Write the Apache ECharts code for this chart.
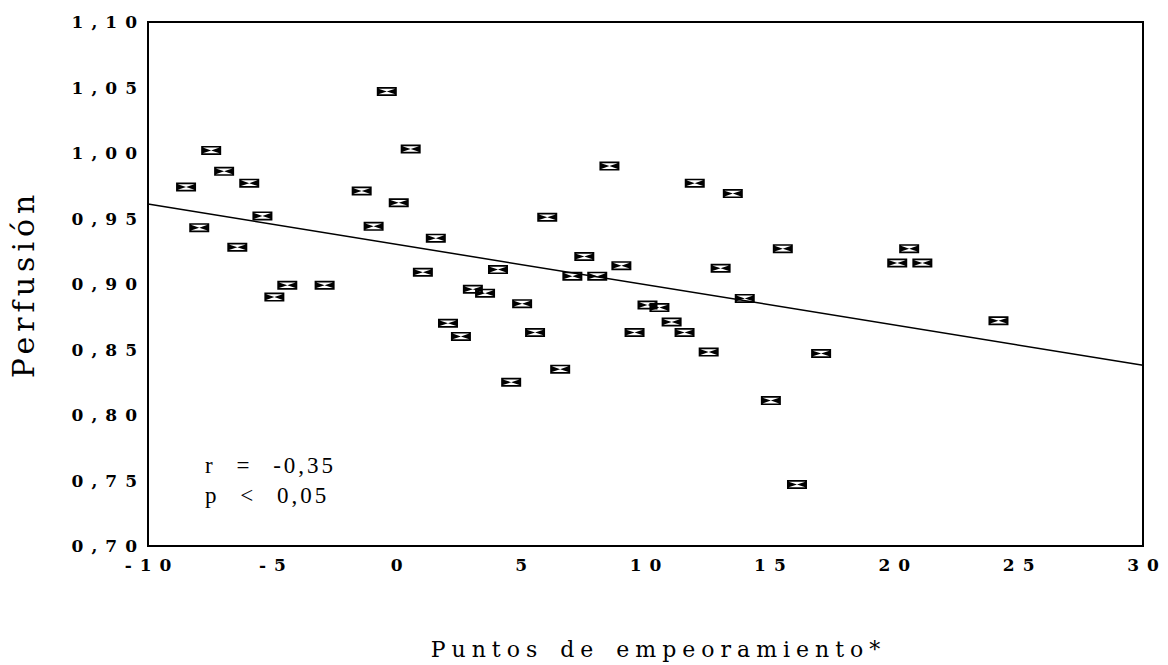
<!DOCTYPE html>
<html>
<head>
<meta charset="utf-8">
<script src="https://cdn.jsdelivr.net/npm/echarts@6/dist/echarts.min.js"></script>
<style>
  html, body { margin: 0; padding: 0; background: #fff; }
  #chart { width: 1168px; height: 665px; }
  /* wide-set lettering for the axis texts */
  #chart text[style*="17px"] { letter-spacing: 8px; }
  #chart text[style*="22px"] { letter-spacing: 6px; word-spacing: 4px; }
  #chart text[style*="30px"] { letter-spacing: 5px; }
  #chart text[style*="23px"] { letter-spacing: 3px; word-spacing: 12px; }
</style>
</head>
<body>
<div id="chart"></div>
<script>
// Puntos de empeoramiento (x) and perfusión (y) for each patient
const puntos = [
  -8.47, -7.46, -6.94, -7.94, -5.93, -6.41, -5.40, -4.40, -4.92, -2.90,
  -0.40, -1.41, -0.93, 0.08, 0.56, 1.57, 1.05, 2.06, 2.58, 3.06,
  3.55, 4.07, 5.04, 4.60, 5.56, 6.05, 6.57, 7.54, 7.06, 8.06,
  8.55, 9.03, 10.08, 9.56, 10.56, 11.05, 11.57, 12.54, 11.98, 13.02,
  13.51, 13.99, 15.04, 16.09, 15.52, 17.06, 20.60, 20.12, 21.13, 24.19
];
const perfusion = [
  0.974, 1.002, 0.986, 0.943, 0.977, 0.928, 0.952, 0.899, 0.890, 0.899,
  1.047, 0.971, 0.944, 0.962, 1.003, 0.935, 0.909, 0.870, 0.860, 0.896,
  0.893, 0.911, 0.885, 0.825, 0.863, 0.951, 0.835, 0.921, 0.906, 0.906,
  0.990, 0.914, 0.884, 0.863, 0.882, 0.871, 0.863, 0.848, 0.977, 0.912,
  0.969, 0.889, 0.811, 0.747, 0.927, 0.847, 0.927, 0.916, 0.916, 0.872
];
// Fitted regression line, evaluated at the ends of the x range
const rectaX = [-10, 30];
const rectaY = [0.961, 0.838];
// Correlation statistics
const estadisticos = ['r = -0,35', 'p < 0,05'];

const points = puntos.map((x, i) => [x, perfusion[i]]);
const recta = rectaX.map((x, i) => [x, rectaY[i]]);

// Boxed bow-tie marker: frame, hollow inside, two solid triangles meeting in the middle
const marker = 'path://M0,0H20V9H0Z M1.7,1.7V7.3H18.3V1.7Z M1.7,1.7L10,4.5L1.7,7.3Z M18.3,1.7L10,4.5L18.3,7.3Z';

const chart = echarts.init(document.getElementById('chart'), null, { renderer: 'svg' });
chart.setOption({
  animation: false,
  backgroundColor: '#fff',
  grid: {
    left: 148, top: 22, width: 995, height: 526,
    show: true, borderColor: '#000', borderWidth: 2, backgroundColor: 'transparent'
  },
  xAxis: {
    type: 'value', min: -10, max: 30, interval: 5,
    name: 'Puntos de empeoramiento*',
    nameLocation: 'middle', nameGap: 92,
    nameTextStyle: { fontFamily: 'DejaVu Serif', fontSize: 22, color: '#000', padding: [0, 0, 0, 26] },
    axisLine: { show: true, onZero: false, lineStyle: { color: '#000', width: 2 } },
    axisTick: { show: false },
    splitLine: { show: false },
    axisLabel: {
      fontFamily: 'DejaVu Serif', fontWeight: 'bold', fontSize: 17, color: '#000',
      margin: 10, padding: [0, 0, 0, 8]
    }
  },
  yAxis: {
    type: 'value', min: 0.70, max: 1.10, interval: 0.05,
    name: 'Perfusión',
    nameLocation: 'middle', nameGap: 110,
    nameTextStyle: { fontFamily: 'DejaVu Serif', fontSize: 30, color: '#000' },
    axisLine: { show: true, onZero: false, lineStyle: { color: '#000', width: 2 } },
    axisTick: { show: false },
    splitLine: { show: false },
    axisLabel: {
      fontFamily: 'DejaVu Serif', fontWeight: 'bold', fontSize: 17, color: '#000', margin: 3,
      formatter: v => v.toFixed(2).replace('.', ',')
    }
  },
  graphic: estadisticos.map((t, i) => ({
    type: 'text', x: 205, y: 465 + i * 30,
    style: { text: t, fontFamily: 'Liberation Serif', fontSize: 23, fill: '#000', verticalAlign: 'middle' }
  })),
  series: [
    {
      type: 'line', data: recta, symbol: 'none', silent: true,
      lineStyle: { color: '#000', width: 1.5 }
    },
    {
      type: 'scatter', data: points, symbol: marker, symbolSize: [20, 9],
      itemStyle: { color: '#000', opacity: 1 }
    }
  ]
});
</script>
</body>
</html>
